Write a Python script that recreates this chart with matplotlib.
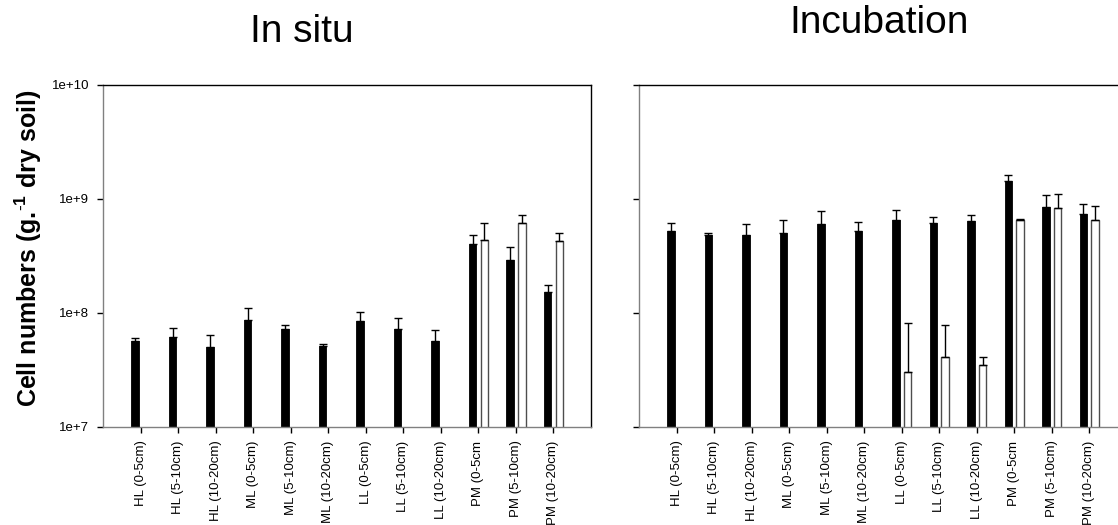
"""Cell numbers per g dry soil: in situ vs incubation (log scale bar chart)."""
import matplotlib
matplotlib.use("Agg")
import matplotlib.pyplot as plt
import numpy as np
from matplotlib.ticker import FixedLocator, FuncFormatter, NullLocator

plt.rcParams["font.family"] = ["Liberation Sans", "DejaVu Sans"]
plt.rcParams["mathtext.fontset"] = "custom"
plt.rcParams["mathtext.bf"] = "Liberation Sans:bold"
plt.rcParams["mathtext.rm"] = "Liberation Sans"

labels = ["HL (0-5cm)", "HL (5-10cm)", "HL (10-20cm)",
          "ML (0-5cm)", "ML (5-10cm)", "ML (10-20cm)",
          "LL (0-5cm)", "LL (5-10cm)", "LL (10-20cm)",
          "PM (0-5cm", "PM (5-10cm)", "PM (10-20cm)"]

# In situ
situ_black = [5.6e7, 6.1e7, 5.0e7, 8.65e7, 7.15e7, 5.1e7,
              8.4e7, 7.25e7, 5.65e7, 4.0e8, 2.9e8, 1.52e8]
situ_black_err = [0.45e7, 1.2e7, 1.35e7, 2.3e7, 0.65e7, 0.25e7,
                  1.8e7, 1.75e7, 1.45e7, 0.83e8, 0.87e8, 0.24e8]
situ_white = [None, None, None, None, None, None,
              None, None, None, 4.38e8, 6.1e8, 4.3e8]
situ_white_err = [None, None, None, None, None, None,
                  None, None, None, 1.73e8, 1.11e8, 0.75e8]

# Incubation
incu_black = [5.2e8, 4.8e8, 4.82e8, 5.05e8, 5.98e8, 5.26e8,
              6.5e8, 6.18e8, 6.36e8, 1.43e9, 8.45e8, 7.4e8]
incu_black_err = [0.95e8, 0.26e8, 1.2e8, 1.52e8, 1.85e8, 0.97e8,
                  1.55e8, 0.72e8, 0.91e8, 0.2e9, 2.45e8, 1.67e8]
incu_white = [None, None, None, None, None, None,
              3.0e7, 4.1e7, 3.45e7, 6.57e8, 8.27e8, 6.5e8]
incu_white_err = [None, None, None, None, None, None,
                  5.2e7, 3.7e7, 0.63e7, 0.09e8, 2.7e8, 2.23e8]

GRAY = "#808080"
W = 0.2


def draw_panel(ax, black, black_err, white, white_err, show_ylabels):
    x = np.arange(len(labels))
    ax.bar(x - 0.15, black, W, color="black", edgecolor="black", linewidth=0.6)
    ax.errorbar(x - 0.15, black, yerr=[np.zeros(len(black)), black_err],
                fmt="none", ecolor="black", elinewidth=1, capsize=2.8, capthick=1)
    wi = [i for i, v in enumerate(white) if v is not None]
    wv = [white[i] for i in wi]
    we = [white_err[i] for i in wi]
    wx = np.array(wi) + 0.16
    ax.bar(wx, wv, W, color="white", edgecolor="0.3", linewidth=1)
    ax.errorbar(wx, wv, yerr=[np.zeros(len(wv)), we],
                fmt="none", ecolor="black", elinewidth=1, capsize=2.8, capthick=1)

    ax.set_yscale("log")
    ax.set_ylim(1e7, 1e10)
    ax.set_xlim(-1, 12)
    ax.yaxis.set_major_locator(FixedLocator([1e7, 1e8, 1e9, 1e10]))
    ax.yaxis.set_minor_locator(NullLocator())
    ax.yaxis.set_major_formatter(
        FuncFormatter(lambda v, _: f"1e+{int(round(np.log10(v)))}"))
    ax.set_xticks(x)
    ax.set_xticklabels(labels, rotation=90, fontsize=9.5)
    ax.tick_params(axis="both", direction="out", length=4, width=1,
                   pad=6, colors="black")
    ax.tick_params(axis="y", labelsize=9.5, labelleft=show_ylabels)
    ax.spines["left"].set_color(GRAY)
    ax.spines["bottom"].set_color(GRAY)
    ax.spines["top"].set_color("black")
    ax.spines["right"].set_color("black")
    for s in ax.spines.values():
        s.set_linewidth(1)


fig = plt.figure(figsize=(11.18, 5.25), dpi=100)
ax1 = fig.add_axes([0.0924, 0.1872, 0.4361, 0.6509])
ax2 = fig.add_axes([0.5716, 0.1872, 0.4361, 0.6509])

draw_panel(ax1, situ_black, situ_black_err, situ_white, situ_white_err, True)
draw_panel(ax2, incu_black, incu_black_err, incu_white, incu_white_err, False)

fig.text(0.2697, 0.9206, "In situ", fontsize=28, ha="center", va="baseline")
fig.text(0.786, 0.9366, "Incubation", fontsize=28, ha="center", va="baseline")
fig.text(0.025, 0.5276, r"Cell numbers (g.$^{\mathbf{\text{-}1}}$ dry soil)",
         fontsize=18, fontweight="bold", rotation=90, ha="center", va="center")

fig.savefig("out.png", dpi=100)
